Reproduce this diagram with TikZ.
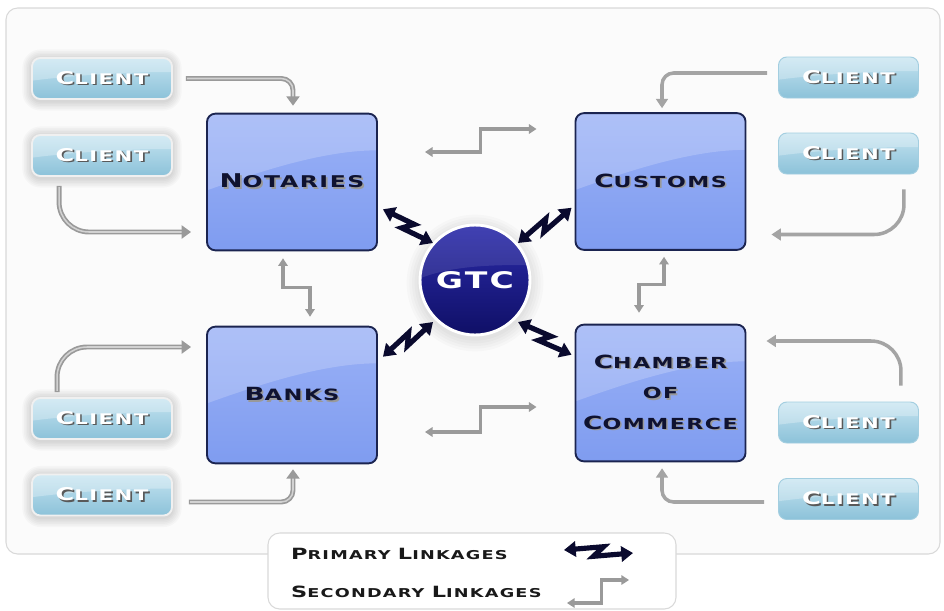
\documentclass[tikz,border=0pt]{standalone}
\usepackage{fontspec}
\usetikzlibrary{arrows.meta,calc}
\newfontfamily\capsfont[FakeStretch=1.45,LetterSpace=10]{DejaVu Sans}

\definecolor{boxtop}{HTML}{9AB1F6}
\definecolor{boxbot}{HTML}{7F9CF0}
\definecolor{boxedge}{HTML}{1B2450}
\definecolor{boxtext}{HTML}{0F1230}
\definecolor{clienttop}{HTML}{C4E3F0}
\definecolor{clientbot}{HTML}{8CC2D9}
\definecolor{clientedge}{HTML}{A3CEE0}
\definecolor{gtctop}{HTML}{2C2CAB}
\definecolor{gtcbot}{HTML}{0F0F66}
\definecolor{linkgray}{HTML}{9A9A9A}
\definecolor{primarylink}{HTML}{0A0A2E}
\definecolor{framegray}{HTML}{D9D9D9}
\definecolor{framefill}{HTML}{FBFBFB}

% first letter large, the rest small
\newcommand\capword[4]{{\fontsize{#1}{#1}\selectfont#3}{\fontsize{#2}{#2}\selectfont#4}}
% text with an offset shadow behind it
\newcommand\dropsh[2]{\makebox[0pt][l]{\hspace{1.4pt}\raisebox{-1.4pt}{\textcolor{#1}{#2}}}#2}
% zig-zag double arrow for primary linkages
\newcommand\zigarrow[2]{\draw[primary] (#1) -- ($(#1)!0.57!(#2)!0.15cm!90:(#2)$) -- ($(#1)!0.43!(#2)!0.15cm!-90:(#2)$) -- (#2);}
% glossy upper band inside a node: left depth, right depth, opacity, control reach
\newcommand\gloss[4]{\fill[white,opacity=#3,sharp corners]
  (path picture bounding box.north west) -- ([yshift=-#1]path picture bounding box.north west)
  .. controls ([xshift=#4,yshift=-0.75*#1]path picture bounding box.north west)
  and ([xshift=-#4,yshift=-#2]path picture bounding box.north east)
  .. ([yshift=-#2]path picture bounding box.north east) -- (path picture bounding box.north east) -- cycle;}

\tikzset{
  bigbox/.style={draw=boxedge, line width=1.6pt, rounded corners=0.25cm,
    minimum width=5.1cm, minimum height=4.1cm, top color=boxtop, bottom color=boxbot,
    text=boxtext, align=center, font=\capsfont\bfseries,
    path picture={\gloss{2.3cm}{1.1cm}{0.2}{1.6cm}}},
  clientbox/.style={draw=clientedge, line width=0.8pt, rounded corners=0.25cm,
    minimum width=4.2cm, minimum height=1.23cm, top color=clienttop, bottom color=clientbot,
    text=white, font=\capsfont\bfseries,
    path picture={\gloss{0.68cm}{0.42cm}{0.28}{1.3cm}}},
  leftclient/.style={clientbox, draw=white!88!gray, line width=1.6pt},
  gtcball/.style={circle, minimum size=3.3cm, top color=gtctop, bottom color=gtcbot,
    draw=white, line width=2.5pt, text=white,
    font=\capsfont\bfseries\fontsize{19.5pt}{20pt}\selectfont,
    path picture={\gloss{1.6cm}{1.2cm}{0.1}{1cm}}},
  clientlink/.style={draw=linkgray, line width=4.2pt, rounded corners=0.35cm,
    -{Triangle[length=8pt,width=11pt]},
    postaction={draw=white!55!linkgray, line width=1.3pt, arrows=-, shorten >=8pt, shorten <=1pt}},
  clientlinkthin/.style={draw=linkgray!90!white, line width=3pt, rounded corners=0.35cm,
    -{Triangle[length=8pt,width=10pt]}},
  secondary/.style={draw=linkgray, line width=2.6pt,
    {Triangle[length=6.5pt,width=8pt]}-{Triangle[length=6.5pt,width=8pt]}},
  primary/.style={draw=primarylink, line width=4.4pt, line join=miter,
    {Triangle[length=10pt,width=13pt]}-{Triangle[length=10pt,width=13pt]}},
  legendtxt/.style={text=black!90, font=\capsfont\bfseries, inner sep=0pt},
}

\begin{document}
\begin{tikzpicture}[x=0.03cm,y=-0.03cm]
\fill[white] (0,0) rectangle (944,611);
\useasboundingbox (0,0) rectangle (944,611);

% outer panel
\draw[framegray, fill=framefill, rounded corners=0.35cm, line width=0.9pt] (6,8) rectangle (940,554);

% soft glow under the left client boxes
\foreach \cy in {78.5,155.5,418.5,495}{
  \foreach \k in {1,...,6}{
    \fill[black, opacity=0.022, rounded corners={0.25cm+\k*0.05cm}]
      ({32-1.6*\k},{\cy-19.5-1.6*\k}) rectangle ({172+1.6*\k},{\cy+22.5+1.6*\k});
  }
}
% faint halo round the centre ball
\foreach \k in {1,...,5}{
  \fill[black, opacity=0.018] (475,283) circle ({1.65cm+\k*0.08cm});
}

% main bodies
\node[bigbox] (notaries) at (292,182) {\dropsh{black!40}{\capword{16.2pt}{13.8pt}{N}{OTARIES}}};
\node[bigbox] (customs)  at (660.5,181.5) {\dropsh{black!40}{\capword{15.5pt}{13pt}{C}{USTOMS}}};
\node[bigbox] (banks)    at (292,395) {\dropsh{black!40}{\capword{15.5pt}{13.3pt}{B}{ANKS}}};
\node[bigbox, font=\capsfont\bfseries\fontsize{13pt}{26pt}\selectfont] (chamber) at (660.5,393)
  {\dropsh{black!40}{\capword{15.5pt}{13pt}{C}{HAMBER}}\\
   \dropsh{black!40}{\capword{13pt}{13pt}{O}{F}}\\
   \dropsh{black!40}{\capword{15.5pt}{13pt}{C}{OMMERCE}}};

\node[gtcball] (gtc) at (475,280) {GTC};

% clients
\node[leftclient] (cl1) at (102,78.5)  {\dropsh{black!65}{\capword{15pt}{12.5pt}{C}{LIENT}}};
\node[leftclient] (cl2) at (102,155.5) {\dropsh{black!65}{\capword{15pt}{12.5pt}{C}{LIENT}}};
\node[leftclient] (cl3) at (102,418.5) {\dropsh{black!65}{\capword{15pt}{12.5pt}{C}{LIENT}}};
\node[leftclient] (cl4) at (102,495)   {\dropsh{black!65}{\capword{15pt}{12.5pt}{C}{LIENT}}};
\node[clientbox] (cr1) at (848.5,77.5)  {\dropsh{black!65}{\capword{15pt}{12.5pt}{C}{LIENT}}};
\node[clientbox] (cr2) at (848.5,153.5) {\dropsh{black!65}{\capword{15pt}{12.5pt}{C}{LIENT}}};
\node[clientbox] (cr3) at (848.5,422.5) {\dropsh{black!65}{\capword{15pt}{12.5pt}{C}{LIENT}}};
\node[clientbox] (cr4) at (848.5,499)   {\dropsh{black!65}{\capword{15pt}{12.5pt}{C}{LIENT}}};

% client links
\coordinate (a1s) at ($(cl1.east)+(13,0)$);
\coordinate (a1e) at ($(notaries.north)+(1,-7)$);
\draw[clientlink] (a1s) -| (a1e);
\coordinate (a2s) at ($(cl2.south west)+(28,9)$);
\coordinate (a2e) at ($(notaries.west)+(-15,50)$);
\draw[clientlink, rounded corners=0.9cm] (a2s) |- (a2e);
\coordinate (a3s) at ($(cl3.north west)+(26,-5)$);
\coordinate (a3e) at ($(banks.west)+(-15,-48)$);
\draw[clientlink, rounded corners=0.9cm] (a3s) |- (a3e);
\coordinate (a4s) at ($(cl4.east)+(16,7)$);
\coordinate (a4e) at ($(banks.south)+(1,5)$);
\draw[clientlink] (a4s) -| (a4e);

\coordinate (b1s) at ($(cr1.west)+(-11,-4.5)$);
\coordinate (b1e) at ($(customs.north)+(1.5,-4)$);
\draw[clientlinkthin] (b1s) -| (b1e);
\coordinate (b2s) at ($(cr2.south east)+(-15,15)$);
\coordinate (b2e) at ($(customs.east)+(25,53)$);
\draw[clientlinkthin, rounded corners=0.9cm] (b2s) |- (b2e);
\coordinate (b3s) at ($(cr3.north east)+(-18,-16)$);
\coordinate (b3e) at ($(chamber.east)+(20,-52)$);
\draw[clientlinkthin, rounded corners=0.9cm] (b3s) |- (b3e);
\coordinate (b4s) at ($(cr4.west)+(-14,3)$);
\coordinate (b4e) at ($(chamber.south)+(1.5,6)$);
\draw[clientlinkthin] (b4s) -| (b4e);

% secondary linkages between the bodies
\coordinate (s1a) at ($(notaries.east)+(47,-30)$);
\coordinate (s1b) at ($(customs.west)+(-38,-52.5)$);
\draw[secondary] (s1a) -| ($(s1a)!0.5!(s1b)$) |- (s1b);
\coordinate (s2a) at ($(banks.east)+(47,37)$);
\coordinate (s2b) at ($(chamber.west)+(-38,14)$);
\draw[secondary] (s2a) -| ($(s2a)!0.5!(s2b)$) |- (s2b);
\coordinate (s3a) at ($(notaries.south)+(-9,7)$);
\coordinate (s3b) at ($(banks.north)+(18,-9)$);
\draw[secondary] (s3a) |- ($(s3a)!0.5!(s3b)$) -| (s3b);
\coordinate (s4a) at ($(customs.south)+(3.5,6)$);
\coordinate (s4b) at ($(chamber.north)+(-21.5,-11)$);
\draw[secondary] (s4a) |- ($(s4a)!0.5!(s4b)$) -| (s4b);

% primary linkages with the centre
\coordinate (p1a) at ($(notaries.south east)+(5,-42)$);
\coordinate (p1b) at ($(gtc.center)+(-42,-37)$);
\zigarrow{p1a}{p1b}
\coordinate (p2a) at ($(customs.south west)+(-3,-43)$);
\coordinate (p2b) at ($(gtc.center)+(43,-37)$);
\zigarrow{p2a}{p2b}
\coordinate (p3a) at ($(banks.north east)+(5,31)$);
\coordinate (p3b) at ($(gtc.center)+(-42,42)$);
\zigarrow{p3a}{p3b}
\coordinate (p4a) at ($(chamber.north west)+(-3,31)$);
\coordinate (p4b) at ($(gtc.center)+(43,42)$);
\zigarrow{p4a}{p4b}

% legend
\draw[framegray, fill=white, rounded corners=0.35cm, line width=0.9pt] (268,533) rectangle (676,609);
\node[legendtxt, anchor=west] (lprim) at (291,554) {\capword{13.2pt}{10.4pt}{P}{RIMARY }\capword{13.2pt}{10.4pt}{L}{INKAGES}};
\node[legendtxt, anchor=west] (lsec) at (291,592) {\capword{13.2pt}{10.4pt}{S}{ECONDARY }\capword{13.2pt}{10.4pt}{L}{INKAGES}};
\coordinate (lpa) at (564,550);
\coordinate (lpb) at (633,553);
\zigarrow{lpa}{lpb}
\coordinate (lsa) at (567,603);
\coordinate (lsb) at (629,580);
\draw[secondary] (lsa) -| ($(lsa)!0.55!(lsb)$) |- (lsb);
\end{tikzpicture}
\end{document}
